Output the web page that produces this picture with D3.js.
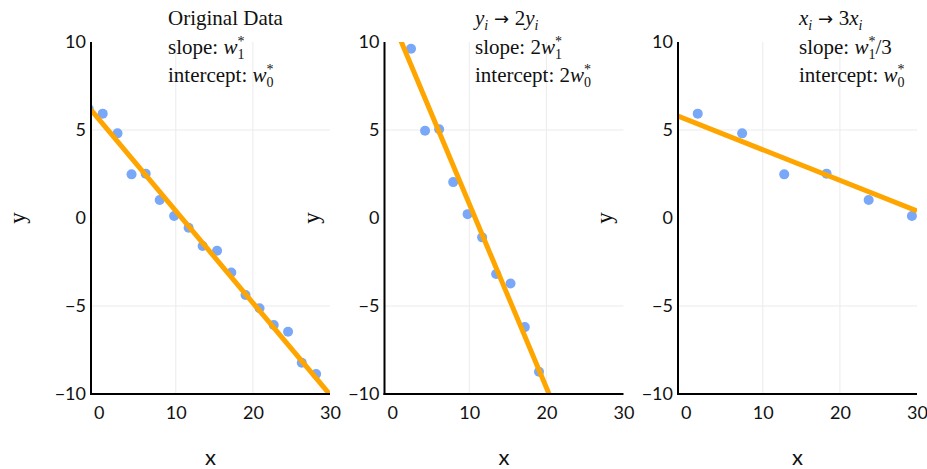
<!DOCTYPE html>
<html>
<head>
<meta charset="utf-8">
<script src="https://cdn.jsdelivr.net/npm/d3@7"></script>
<style>
  html, body { margin: 0; padding: 0; background: #fff; }
  svg { display: block; }
</style>
</head>
<body>
<svg id="chart" width="927" height="469"></svg>
<script>
// ---------- data ----------
const xData = [-1.3, 0.52, 2.44, 4.26, 6.09, 7.91, 9.78, 11.66, 13.48, 15.35, 17.2, 19.04, 20.86, 22.7, 24.56, 26.34, 28.2];
const yData = [6.2, 5.93, 4.81, 2.48, 2.52, 1.02, 0.11, -0.55, -1.59, -1.86, -3.1, -4.37, -5.13, -6.08, -6.46, -8.22, -8.86];
const w0 = 5.62;   // fitted intercept
const w1 = -0.522; // fitted slope
const xScaleFactors = [1, 1, 3];
const yScaleFactors = [1, 2, 1];
const xTicks = [0, 10, 20, 30];
const yTicks = [-10, -5, 0, 5, 10];
const xDomain = [-1, 30];
const yDomain = [-10, 10];
const xTitle = "x";
const yTitle = "y";
// annotation lines: each piece {t, it (italic), sub, sup, arrow}
const annotations = [
  [
    [{t: "Original Data"}],
    [{t: "slope: "}, {t: "w", it: true, sub: "1", sup: "*"}],
    [{t: "intercept: "}, {t: "w", it: true, sub: "0", sup: "*"}]
  ],
  [
    [{t: "y", it: true, sub: "i", subIt: true}, {t: " \u2192 ", arrow: true}, {t: "2"}, {t: "y", it: true, sub: "i", subIt: true}],
    [{t: "slope: 2"}, {t: "w", it: true, sub: "1", sup: "*"}],
    [{t: "intercept: 2"}, {t: "w", it: true, sub: "0", sup: "*"}]
  ],
  [
    [{t: "x", it: true, sub: "i", subIt: true}, {t: " \u2192 ", arrow: true}, {t: "3"}, {t: "x", it: true, sub: "i", subIt: true}],
    [{t: "slope: "}, {t: "w", it: true, sub: "1", sup: "*"}, {t: "/3"}],
    [{t: "intercept: "}, {t: "w", it: true, sub: "0", sup: "*"}]
  ]
];

// ---------- layout ----------
const svg = d3.select("#chart");
const panelLefts = [91, 384.5, 678];
const panelWidth = 239;
const plotTop = 42, plotBottom = 394;
const annX = [168, 475, 799];
const annY = [25, 53.5, 82];
const annSize = 21, scriptSize = 14;
const serif = "'Liberation Serif', 'DejaVu Serif', serif";
const tickFont = "Lato, 'Open Sans', sans-serif";
const pointColor = "#78a8f7";
const lineColor = "#ffa500";

const defs = svg.append("defs");

panelLefts.forEach((left, p) => {
  const x = d3.scaleLinear().domain(xDomain).range([left, left + panelWidth]);
  const y = d3.scaleLinear().domain(yDomain).range([plotBottom, plotTop]);
  const g = svg.append("g");

  defs.append("clipPath").attr("id", "clip" + p)
    .append("rect").attr("x", left).attr("y", plotTop)
    .attr("width", panelWidth).attr("height", plotBottom - plotTop);

  // grid
  g.append("g").selectAll("line").data([10, 20]).join("line")
    .attr("x1", d => x(d)).attr("x2", d => x(d))
    .attr("y1", plotTop).attr("y2", plotBottom)
    .attr("stroke", "#ebebeb").attr("stroke-width", 1);
  g.append("g").selectAll("line").data([-5, 5]).join("line")
    .attr("x1", left).attr("x2", left + panelWidth)
    .attr("y1", d => y(d)).attr("y2", d => y(d))
    .attr("stroke", "#ebebeb").attr("stroke-width", 1);

  const sx = xScaleFactors[p], sy = yScaleFactors[p];
  const pts = xData.map((d, i) => ({x: d * sx, y: yData[i] * sy}));

  const plot = g.append("g").attr("clip-path", `url(#clip${p})`);
  // points
  plot.selectAll("circle").data(pts).join("circle")
    .attr("cx", d => x(d.x)).attr("cy", d => y(d.y))
    .attr("r", 5).attr("fill", pointColor);
  // fitted line: slope w1*sy/sx, intercept w0*sy
  const f = xv => (w0 + w1 * (xv / sx)) * sy;
  plot.append("line")
    .attr("x1", x(xDomain[0])).attr("y1", y(f(xDomain[0])))
    .attr("x2", x(xDomain[1])).attr("y2", y(f(xDomain[1])))
    .attr("stroke", lineColor).attr("stroke-width", 5);

  // axes
  const xAxis = d3.axisBottom(x).tickValues(xTicks).tickSize(0).tickPadding(12).tickFormat(d3.format("d"));
  const yAxis = d3.axisLeft(y).tickValues(yTicks).tickSize(0).tickPadding(5)
    .tickFormat(d => d < 0 ? "\u2212" + Math.abs(d) : String(d));
  const gx = g.append("g").attr("transform", `translate(0,${plotBottom})`).call(xAxis);
  const gy = g.append("g").attr("transform", `translate(${left},0)`).call(yAxis);
  [gx, gy].forEach(ax => {
    ax.select(".domain").remove();
    ax.selectAll("text").attr("font-family", tickFont).attr("font-size", 18).attr("fill", "#111");
  });
  g.append("line").attr("x1", left).attr("x2", left).attr("y1", plotTop).attr("y2", plotBottom + 1)
    .attr("stroke", "#000").attr("stroke-width", 2);
  g.append("line").attr("x1", left - 1).attr("x2", left + panelWidth).attr("y1", plotBottom).attr("y2", plotBottom)
    .attr("stroke", "#000").attr("stroke-width", 2);

  // titles
  g.append("text").attr("x", left + panelWidth / 2).attr("y", 465)
    .attr("text-anchor", "middle").attr("font-family", tickFont).attr("font-size", 22)
    .attr("fill", "#111").text(xTitle);
  g.append("text").attr("transform", `translate(${left - 66},${(plotTop + plotBottom) / 2}) rotate(-90)`)
    .attr("text-anchor", "middle").attr("font-family", serif).attr("font-size", 23)
    .attr("fill", "#111").text(yTitle);

  // annotations
  annotations[p].forEach((line, li) => {
    const t = g.append("text").attr("x", annX[p]).attr("y", annY[li])
      .attr("font-family", serif).attr("font-size", annSize).attr("fill", "#111");
    let shift = 0;
    const span = (text, s, size) => {
      const el = t.append("tspan").text(text).attr("font-size", size);
      if (s !== shift) el.attr("dy", s - shift);
      shift = s;
      return el;
    };
    line.forEach(piece => {
      const main = span(piece.t, 0, annSize);
      if (piece.it) main.attr("font-style", "italic");
      if (piece.arrow) main.attr("font-family", "'DejaVu Sans', sans-serif").attr("font-size", 18);
      if (piece.sup && piece.sub) {
        span(piece.sup, -8, scriptSize);
        const sb = span(piece.sub, 5, scriptSize).attr("dx", -7);
        if (piece.subIt) sb.attr("font-style", "italic");
      } else if (piece.sub) {
        const sb = span(piece.sub, 5, scriptSize);
        if (piece.subIt) sb.attr("font-style", "italic");
      }
    });
  });
});
</script>
</body>
</html>
